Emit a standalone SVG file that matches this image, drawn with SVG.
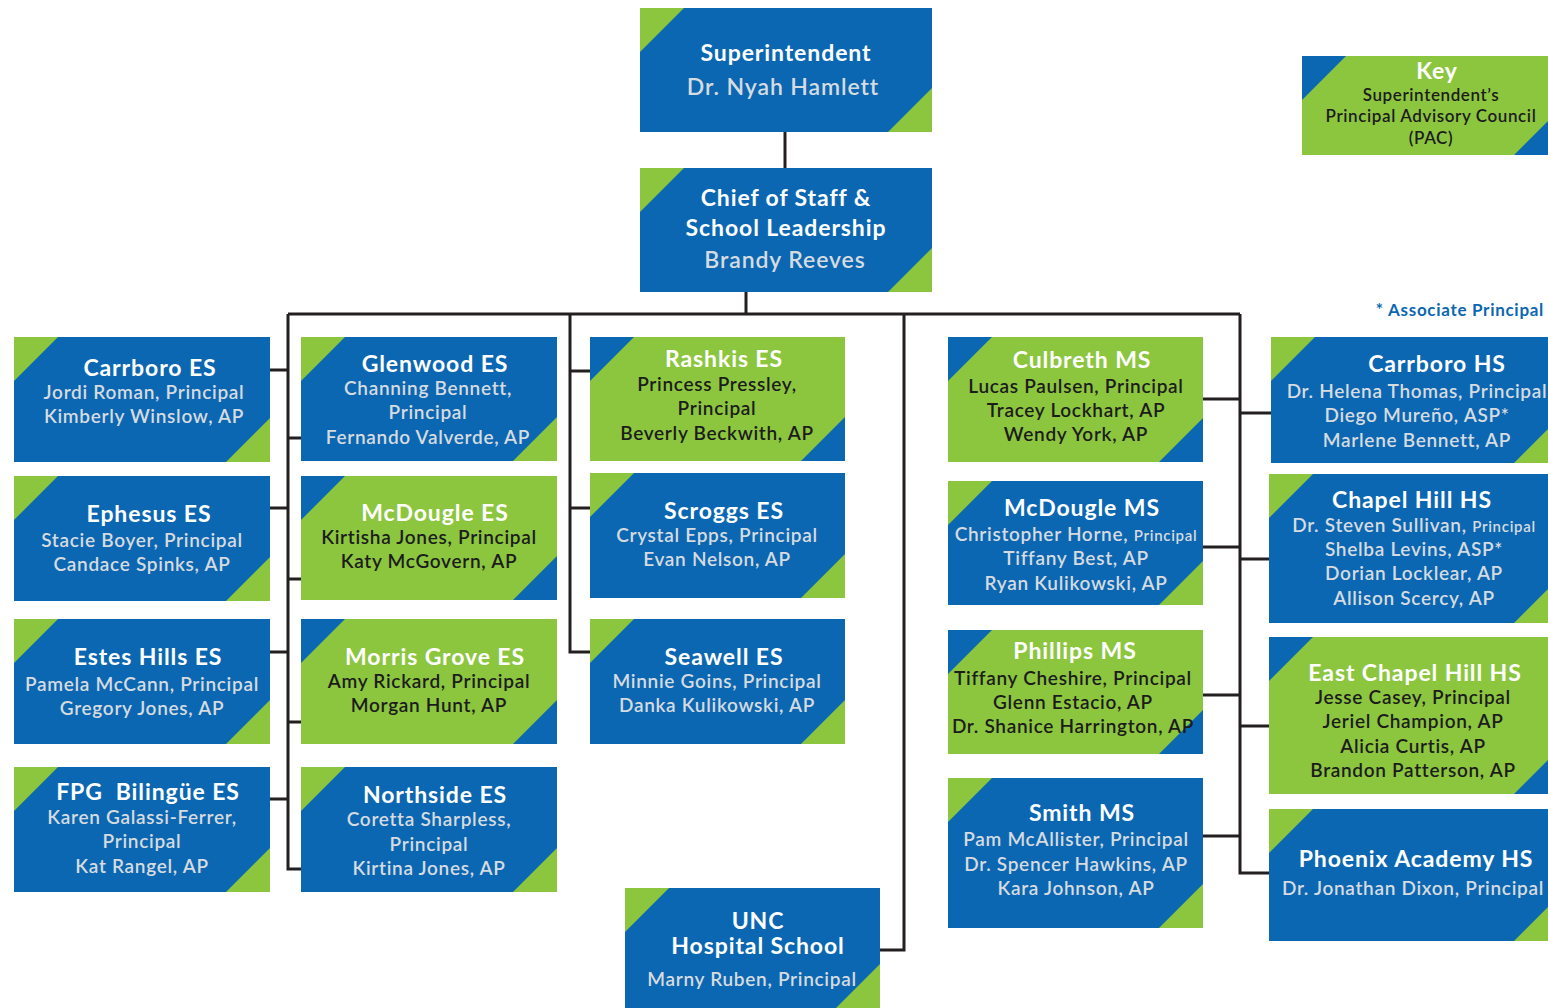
<svg xmlns="http://www.w3.org/2000/svg" width="1548" height="1008" viewBox="0 0 1548 1008">
<style>
.bb{fill:#0b67b2}.gb{fill:#8cc63f}
.gt{fill:#8cc63f}.bt{fill:#0b67b2}
text{font-family:Lato,"Open Sans","Liberation Sans",sans-serif;text-anchor:middle}
.t{font-size:23px;font-weight:700;fill:#ffffff;letter-spacing:0.9px}
.nl{font-size:19px;font-weight:600;fill:#d6dbe0;letter-spacing:0.7px}
.nd{font-size:19px;font-weight:600;fill:#1c1c1c;letter-spacing:0.7px}
.k{font-size:17px;letter-spacing:0.6px}
.sm{font-size:15px}
.ln{fill:none;stroke:#231f20;stroke-width:3}
</style>
<rect width="1548" height="1008" fill="#ffffff"/>
<g id="connectors" class="ln">
<path d="M785 132V168"/>
<path d="M746 292V314"/>
<path d="M288 314H1240"/>
<path d="M288 314V869H301"/>
<path d="M270 370H288M288 438H301M270 508H288M288 579H301M270 652H288M288 722H301M270 799H288"/>
<path d="M570 314V652H590M570 371H590M570 508H590"/>
<path d="M904 314V950H880"/>
<path d="M1240 314V873H1269"/>
<path d="M1203 399H1240M1240 413H1271M1203 547H1240M1240 559H1269M1203 695H1240M1240 726H1269M1203 836H1240"/>
</g>
<g id="superintendent">
<rect class="bb" x="640" y="8" width="292" height="124"/>
<polygon class="gt" points="640,8 684,8 640,52"/><polygon class="gt" points="932,132 888,132 932,88"/>
<text class="t" x="786" y="61">Superintendent</text>
<text class="t" x="783" y="95" style="fill:#d6dbe0;font-weight:600">Dr. Nyah Hamlett</text>
</g>
<g id="chief">
<rect class="bb" x="640" y="168" width="292" height="124"/>
<polygon class="gt" points="640,168 684,168 640,212"/><polygon class="gt" points="932,292 888,292 932,248"/>
<text class="t" x="786" y="206">Chief of Staff &amp;</text>
<text class="t" x="786" y="236">School Leadership</text>
<text class="t" x="785" y="268" style="fill:#d6dbe0;font-weight:600">Brandy Reeves</text>
</g>
<g id="key">
<rect class="gb" x="1302" y="56" width="256" height="99"/>
<polygon class="bt" points="1302,56 1346,56 1302,100"/><polygon class="bt" points="1558,155 1514,155 1558,111"/>
<text class="t" x="1437" y="79">Key</text>
<text class="nd k" x="1431" y="101">Superintendent’s</text>
<text class="nd k" x="1431" y="122">Principal Advisory Council</text>
<text class="nd k" x="1431" y="144">(PAC)</text>
</g>
<text id="ap-note" x="1544" y="316" style="text-anchor:end;font-size:17px;font-weight:700;fill:#0b67b2;letter-spacing:0.7px">* Associate Principal</text>
<g id="carrboro-es">
<rect class="bb" x="14" y="337" width="256" height="125"/>
<polygon class="gt" points="14,337 58,337 14,381"/><polygon class="gt" points="270,462 226,462 270,418"/>
<text class="t" x="150" y="376">Carrboro ES</text>
<text class="nl" x="144" y="399">Jordi Roman, Principal</text>
<text class="nl" x="144" y="423">Kimberly Winslow, AP</text>
</g>
<g id="ephesus-es">
<rect class="bb" x="14" y="476" width="256" height="125"/>
<polygon class="gt" points="14,476 58,476 14,520"/><polygon class="gt" points="270,601 226,601 270,557"/>
<text class="t" x="149" y="522">Ephesus ES</text>
<text class="nl" x="142" y="547">Stacie Boyer, Principal</text>
<text class="nl" x="142" y="571">Candace Spinks, AP</text>
</g>
<g id="estes-hills-es">
<rect class="bb" x="14" y="619" width="256" height="125"/>
<polygon class="gt" points="14,619 58,619 14,663"/><polygon class="gt" points="270,744 226,744 270,700"/>
<text class="t" x="148" y="665">Estes Hills ES</text>
<text class="nl" x="142" y="691">Pamela McCann, Principal</text>
<text class="nl" x="142" y="715">Gregory Jones, AP</text>
</g>
<g id="fpg-es">
<rect class="bb" x="14" y="767" width="256" height="125"/>
<polygon class="gt" points="14,767 58,767 14,811"/><polygon class="gt" points="270,892 226,892 270,848"/>
<text class="t" x="148" y="800" style="white-space:pre">FPG  Bilingüe ES</text>
<text class="nl" x="142" y="824">Karen Galassi-Ferrer,</text>
<text class="nl" x="142" y="848">Principal</text>
<text class="nl" x="142" y="873">Kat Rangel, AP</text>
</g>
<g id="glenwood-es">
<rect class="bb" x="301" y="337" width="256" height="124"/>
<polygon class="gt" points="301,337 345,337 301,381"/><polygon class="gt" points="557,461 513,461 557,417"/>
<text class="t" x="435" y="372">Glenwood ES</text>
<text class="nl" x="428" y="395">Channing Bennett,</text>
<text class="nl" x="428" y="419">Principal</text>
<text class="nl" x="428" y="444">Fernando Valverde, AP</text>
</g>
<g id="mcdougle-es">
<rect class="gb" x="301" y="476" width="256" height="124"/>
<polygon class="bt" points="301,476 345,476 301,520"/><polygon class="bt" points="557,600 513,600 557,556"/>
<text class="t" x="435" y="521">McDougle ES</text>
<text class="nd" x="429" y="544">Kirtisha Jones, Principal</text>
<text class="nd" x="429" y="568">Katy McGovern, AP</text>
</g>
<g id="morris-grove-es">
<rect class="gb" x="301" y="619" width="256" height="125"/>
<polygon class="bt" points="301,619 345,619 301,663"/><polygon class="bt" points="557,744 513,744 557,700"/>
<text class="t" x="435" y="665">Morris Grove ES</text>
<text class="nd" x="429" y="688">Amy Rickard, Principal</text>
<text class="nd" x="429" y="712">Morgan Hunt, AP</text>
</g>
<g id="northside-es">
<rect class="bb" x="301" y="767" width="256" height="125"/>
<polygon class="gt" points="301,767 345,767 301,811"/><polygon class="gt" points="557,892 513,892 557,848"/>
<text class="t" x="435" y="803">Northside ES</text>
<text class="nl" x="429" y="826">Coretta Sharpless,</text>
<text class="nl" x="429" y="851">Principal</text>
<text class="nl" x="429" y="875">Kirtina Jones, AP</text>
</g>
<g id="rashkis-es">
<rect class="gb" x="590" y="337" width="255" height="124"/>
<polygon class="bt" points="590,337 634,337 590,381"/><polygon class="bt" points="845,461 801,461 845,417"/>
<text class="t" x="724" y="367">Rashkis ES</text>
<text class="nd" x="717" y="391">Princess Pressley,</text>
<text class="nd" x="717" y="415">Principal</text>
<text class="nd" x="717" y="440">Beverly Beckwith, AP</text>
</g>
<g id="scroggs-es">
<rect class="bb" x="590" y="473" width="255" height="125"/>
<polygon class="gt" points="590,473 634,473 590,517"/><polygon class="gt" points="845,598 801,598 845,554"/>
<text class="t" x="724" y="519">Scroggs ES</text>
<text class="nl" x="717" y="542">Crystal Epps, Principal</text>
<text class="nl" x="717" y="566">Evan Nelson, AP</text>
</g>
<g id="seawell-es">
<rect class="bb" x="590" y="619" width="255" height="125"/>
<polygon class="gt" points="590,619 634,619 590,663"/><polygon class="gt" points="845,744 801,744 845,700"/>
<text class="t" x="724" y="665">Seawell ES</text>
<text class="nl" x="717" y="688">Minnie Goins, Principal</text>
<text class="nl" x="717" y="712">Danka Kulikowski, AP</text>
</g>
<g id="unc-hospital-school">
<rect class="bb" x="625" y="888" width="255" height="120"/>
<polygon class="gt" points="625,888 669,888 625,932"/><polygon class="gt" points="880,1008 836,1008 880,964"/>
<text class="t" x="758" y="929">UNC</text>
<text class="t" x="758" y="954">Hospital School</text>
<text class="nl" x="752" y="986">Marny Ruben, Principal</text>
</g>
<g id="culbreth-ms">
<rect class="gb" x="948" y="337" width="255" height="125"/>
<polygon class="bt" points="948,337 992,337 948,381"/><polygon class="bt" points="1203,462 1159,462 1203,418"/>
<text class="t" x="1082" y="368">Culbreth MS</text>
<text class="nd" x="1076" y="393">Lucas Paulsen, Principal</text>
<text class="nd" x="1076" y="417">Tracey Lockhart, AP</text>
<text class="nd" x="1076" y="441">Wendy York, AP</text>
</g>
<g id="mcdougle-ms">
<rect class="bb" x="948" y="481" width="255" height="124"/>
<polygon class="gt" points="948,481 992,481 948,525"/><polygon class="gt" points="1203,605 1159,605 1203,561"/>
<text class="t" x="1082" y="516">McDougle MS</text>
<text class="nl" x="1076" y="541">Christopher Horne, <tspan class="sm">Principal</tspan></text>
<text class="nl" x="1076" y="565">Tiffany Best, AP</text>
<text class="nl" x="1076" y="590">Ryan Kulikowski, AP</text>
</g>
<g id="phillips-ms">
<rect class="gb" x="948" y="630" width="255" height="124"/>
<polygon class="bt" points="948,630 992,630 948,674"/><polygon class="bt" points="1203,754 1159,754 1203,710"/>
<text class="t" x="1075" y="659">Phillips MS</text>
<text class="nd" x="1073" y="685">Tiffany Cheshire, Principal</text>
<text class="nd" x="1073" y="709">Glenn Estacio, AP</text>
<text class="nd" x="1073" y="733">Dr. Shanice Harrington, AP</text>
</g>
<g id="smith-ms">
<rect class="bb" x="948" y="778" width="255" height="150"/>
<polygon class="gt" points="948,778 992,778 948,822"/><polygon class="gt" points="1203,928 1159,928 1203,884"/>
<text class="t" x="1082" y="821">Smith MS</text>
<text class="nl" x="1076" y="846">Pam McAllister, Principal</text>
<text class="nl" x="1076" y="871">Dr. Spencer Hawkins, AP</text>
<text class="nl" x="1076" y="895">Kara Johnson, AP</text>
</g>
<g id="carrboro-hs">
<rect class="bb" x="1271" y="337" width="287" height="126"/>
<polygon class="gt" points="1271,337 1315,337 1271,381"/><polygon class="gt" points="1558,463 1514,463 1558,419"/>
<text class="t" x="1437" y="372">Carrboro HS</text>
<text class="nl" x="1417" y="398">Dr. Helena Thomas, Principal</text>
<text class="nl" x="1417" y="422">Diego Mureño, ASP*</text>
<text class="nl" x="1417" y="447">Marlene Bennett, AP</text>
</g>
<g id="chapel-hill-hs">
<rect class="bb" x="1269" y="474" width="289" height="149"/>
<polygon class="gt" points="1269,474 1313,474 1269,518"/><polygon class="gt" points="1558,623 1514,623 1558,579"/>
<text class="t" x="1412" y="508">Chapel Hill HS</text>
<text class="nl" x="1414" y="532">Dr. Steven Sullivan, <tspan class="sm">Principal</tspan></text>
<text class="nl" x="1414" y="556">Shelba Levins, ASP*</text>
<text class="nl" x="1414" y="580">Dorian Locklear, AP</text>
<text class="nl" x="1414" y="605">Allison Scercy, AP</text>
</g>
<g id="east-chapel-hill-hs">
<rect class="gb" x="1269" y="637" width="289" height="157"/>
<polygon class="bt" points="1269,637 1313,637 1269,681"/><polygon class="bt" points="1558,794 1514,794 1558,750"/>
<text class="t" x="1415" y="681">East Chapel Hill HS</text>
<text class="nd" x="1413" y="704">Jesse Casey, Principal</text>
<text class="nd" x="1413" y="728">Jeriel Champion, AP</text>
<text class="nd" x="1413" y="753">Alicia Curtis, AP</text>
<text class="nd" x="1413" y="777">Brandon Patterson, AP</text>
</g>
<g id="phoenix-academy-hs">
<rect class="bb" x="1269" y="809" width="289" height="132"/>
<polygon class="gt" points="1269,809 1313,809 1269,853"/><polygon class="gt" points="1558,941 1514,941 1558,897"/>
<text class="t" x="1416" y="867">Phoenix Academy HS</text>
<text class="nl" x="1413" y="895">Dr. Jonathan Dixon, Principal</text>
</g>
</svg>
